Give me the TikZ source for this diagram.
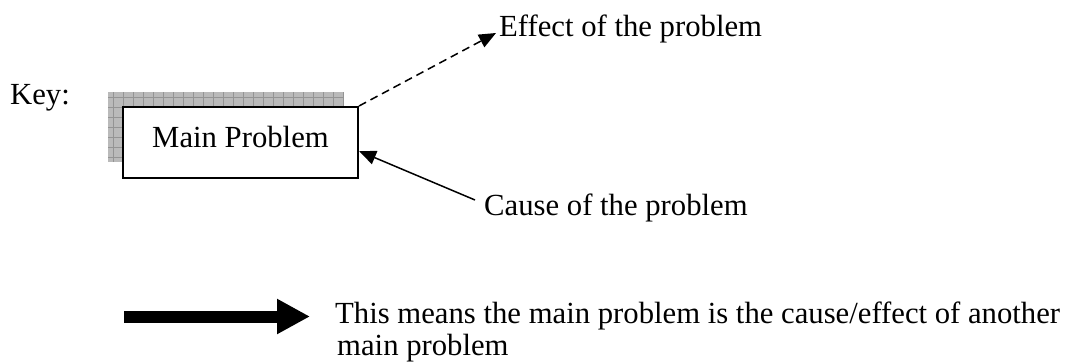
\documentclass[tikz,border=0pt]{standalone}
\usepackage{fontspec}
\setmainfont{Liberation Serif}
\usetikzlibrary{arrows.meta}
\begin{document}
\begin{tikzpicture}[x=1pt,y=-1pt,
  txt/.style={inner sep=0pt, anchor=base west, font=\fontsize{30.7}{33}\selectfont},
  mainbox/.style={draw, line width=2pt, fill=white, minimum width=235pt, minimum height=71pt,
    inner sep=0pt, text height=20pt, text depth=11pt, font=\fontsize{30.7}{33}\selectfont},
  thin arrow/.style={line width=1.5pt, -{Triangle[length=17pt,width=14pt]}},
  dashed arrow/.style={thin arrow, dash pattern=on 8pt off 5pt},
  big arrow/.style={line width=12pt, -{Triangle[length=33pt,width=33pt]}}
]
\useasboundingbox (0,0) rectangle (1070,362);
% shadow
\fill[black!27] (108,92) rectangle (343,162);
\foreach \gx in {113,123,...,343} \draw[black!42, line width=0.7pt] (\gx,92) -- (\gx,162);
\foreach \gy in {97,107,...,162} \draw[black!42, line width=0.7pt] (108,\gy) -- (343,\gy);
% nodes
\node[txt] (key) at (10,104) {Key:};
\node[mainbox] (mp) at (240.5,142.5) {Main Problem\hspace{16pt}};
\node[txt] (effect) at (499,36) {Effect of the problem};
\node[txt] (cause) at (484,215) {Cause of the problem};
\node[txt] (means1) at (335,323) {This means the main problem is the cause/effect of another};
\node[txt] (means2) at (337,355) {main problem};
\coordinate (ctail) at (475,200);
\coordinate (ctip) at (359,151);
\coordinate (bigstart) at (124,316.5);
\coordinate (bigend) at (310,316.5);
% connectors
\draw[dashed arrow] (mp.north east) -- ([xshift=-3pt,yshift=3pt]effect.base west);
\draw[thin arrow] (ctail) -- (ctip);
\draw[big arrow] (bigstart) -- (bigend);
\end{tikzpicture}
\end{document}
